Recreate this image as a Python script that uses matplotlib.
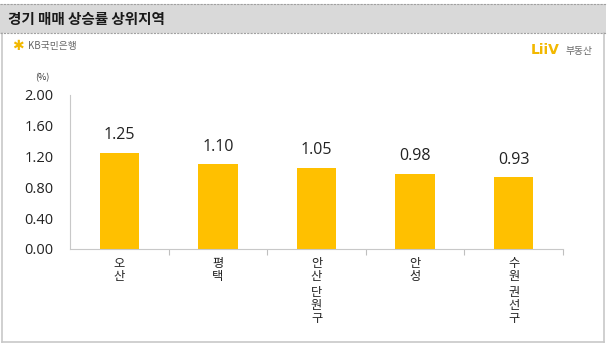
import matplotlib
matplotlib.use("Agg")
import matplotlib.pyplot as plt
from matplotlib.patches import Rectangle
from matplotlib.lines import Line2D

plt.rcParams['font.family'] = ['Noto Sans CJK KR', 'DejaVu Sans']
NUM_FONT = ['Open Sans', 'DejaVu Sans']

categories = ["오산", "평택", "안산 단원구", "안성", "수원 권선구"]
values = [1.25, 1.10, 1.05, 0.98, 0.93]
value_labels = ["1.25", "1.10", "1.05", "0.98", "0.93"]
yticks = [0.0, 0.4, 0.8, 1.2, 1.6, 2.0]
ytick_labels = ["0.00", "0.40", "0.80", "1.20", "1.60", "2.00"]
title = "경기 매매 상승률 상위지역"

W, H = 609, 348
fig = plt.figure(figsize=(W / 100, H / 100), dpi=100)
fig.patch.set_facecolor("white")

def fx(px):
    return px / W

def fy(py):
    return 1 - py / H

# outer content border
fig.add_artist(Line2D([fx(1.5), fx(1.5)], [fy(33), fy(342)], color="#C8C8C8", lw=1.2))
fig.add_artist(Line2D([fx(604), fx(604)], [fy(33), fy(342)], color="#C8C8C8", lw=1.2))
fig.add_artist(Line2D([fx(1.5), fx(604)], [fy(342), fy(342)], color="#C8C8C8", lw=1.2))

# title bar
fig.add_artist(Rectangle((fx(0), fy(33)), fx(606), (29) / H, facecolor="#D9D9D9",
                         edgecolor="none", transform=fig.transFigure))
fig.add_artist(Line2D([fx(0), fx(606)], [fy(4), fy(4)], color="#A0A0A0", lw=0.8, ls=(0, (2, 1))))
fig.add_artist(Line2D([fx(0), fx(606)], [fy(33), fy(33)], color="#A0A0A0", lw=0.8, ls=(0, (2, 1))))
fig.text(fx(8), fy(19), title, fontsize=10.5, fontweight="bold", color="#1a1a1a",
         ha="left", va="center")

# logos
fig.text(fx(12), fy(46), "✱", fontsize=10, color="#F2B800", ha="left", va="center",
         family=["DejaVu Sans"])
fig.text(fx(28), fy(46), "KB국민은행", fontsize=7, color="#666666", ha="left", va="center")
fig.text(fx(531), fy(50), "LiiV", fontsize=10, fontweight="bold", color="#F2B800",
         ha="left", va="center", family=["DejaVu Sans"])
fig.text(fx(565), fy(51), "부동산", fontsize=7, color="#666666", ha="left", va="center")

# axes
ax = fig.add_axes([fx(70), fy(249), (563 - 70) / W, (249 - 95) / H])
x = list(range(len(categories)))
ax.bar(x, values, width=0.4, color="#FFC000", zorder=2)
ax.set_xlim(-0.5, len(categories) - 0.5)
ax.set_ylim(0, 2.0)
ax.set_yticks(yticks)
ax.set_yticklabels(ytick_labels, fontsize=10.5, color="#222222", family=NUM_FONT)
ax.tick_params(axis="y", length=0, pad=12)
ax.set_xticks([i + 0.5 for i in x])
ax.set_xticklabels([])
ax.tick_params(axis="x", length=4, color="#BFBFBF", direction="out")
for s in ["top", "right"]:
    ax.spines[s].set_visible(False)
ax.spines["left"].set_color("#C8C8C8")
ax.spines["bottom"].set_color("#C8C8C8")

for i, (v, lbl) in enumerate(zip(values, value_labels)):
    ax.annotate(lbl, (i, v), xytext=(0, 7), textcoords="offset points",
                ha="center", va="bottom", fontsize=11.5, color="#222222", family=NUM_FONT)

# stacked vertical category labels
for i, cat in enumerate(categories):
    off = -5.5
    for ch in cat:
        if ch == " ":
            off -= 2.5
            continue
        ax.annotate(ch, (i, 0), xytext=(0, off), textcoords="offset points",
                    ha="center", va="top", fontsize=8.8, color="#222222")
        off -= 9.3

fig.text(fx(42), fy(78), "(%)", fontsize=6.5, color="#333333", ha="center", va="center")

fig.savefig("out.png", dpi=100, facecolor="white")
